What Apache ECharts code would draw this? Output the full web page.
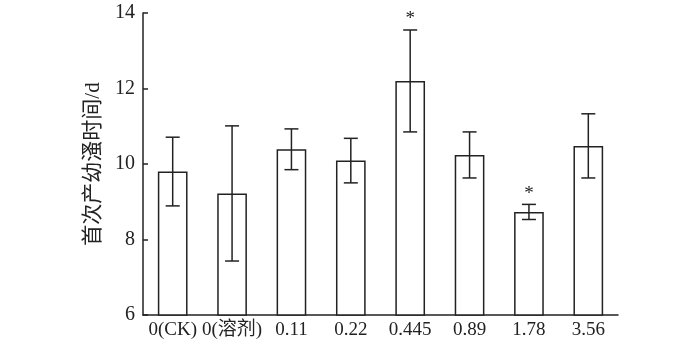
<!DOCTYPE html>
<html>
<head>
<meta charset="utf-8">
<script src="https://cdn.jsdelivr.net/npm/echarts@6/dist/echarts.min.js"></script>
<style>
  html, body { margin: 0; padding: 0; background: #fff; }
  #chart { width: 700px; height: 350px; }
</style>
</head>
<body>
<div id="chart"></div>
<script>
// 처리 농도 (x축 범주)
const categories = ['0(CK)', '0(溶剂)', '0.11', '0.22', '0.445', '0.89', '1.78', '3.56'];
// 평균값
const meanValues = [9.80, 9.22, 10.39, 10.09, 12.20, 10.24, 8.73, 10.48];
// 표준편차
const errValues = [0.91, 1.79, 0.54, 0.59, 1.35, 0.61, 0.20, 0.85];
// 유의성 표시
const marks = ['', '', '', '', '*', '', '*', ''];

const serif = '"Liberation Serif", "Noto Sans CJK SC", serif';
const ink = '#222';

const chart = echarts.init(document.getElementById('chart'));

const errorData = categories.map((c, i) => [i, meanValues[i] - errValues[i], meanValues[i] + errValues[i], marks[i]]);

// 오차 막대 + 별표
function renderError(params, api) {
    const x = api.value(0);
    const lo = api.coord([x, api.value(1)]);
    const hi = api.coord([x, api.value(2)]);
    const cap = 7;
    const style = { stroke: ink, lineWidth: 1.5 };
    const children = [
        { type: 'line', shape: { x1: hi[0], y1: hi[1], x2: lo[0], y2: lo[1] }, style },
        { type: 'line', shape: { x1: hi[0] - cap, y1: hi[1], x2: hi[0] + cap, y2: hi[1] }, style },
        { type: 'line', shape: { x1: lo[0] - cap, y1: lo[1], x2: lo[0] + cap, y2: lo[1] }, style }
    ];
    const mark = api.value(3);
    if (mark) {
        children.push({
            type: 'text',
            style: {
                text: mark, x: hi[0], y: hi[1] - 1,
                align: 'center', verticalAlign: 'bottom',
                font: '19px ' + serif, fill: ink
            }
        });
    }
    return { type: 'group', children };
}

chart.setOption({
    animation: false,
    grid: { left: 143, right: 82, top: 13, bottom: 35 },
    xAxis: {
        type: 'category',
        data: categories,
        axisLine: { lineStyle: { color: ink, width: 1.5 } },
        axisTick: { show: false },
        axisLabel: { color: ink, fontSize: 19, fontFamily: serif, margin: 6, interval: 0 }
    },
    yAxis: {
        type: 'value',
        min: 6,
        max: 14,
        interval: 2,
        name: '首次产幼溞时间/d',
        nameLocation: 'middle',
        nameGap: 36,
        nameTextStyle: { color: ink, fontSize: 21, fontFamily: serif },
        axisLine: { show: true, lineStyle: { color: ink, width: 1.5 } },
        axisTick: { show: true, inside: true, length: 5, lineStyle: { color: ink, width: 1.5 } },
        axisLabel: { color: ink, fontSize: 20, fontFamily: serif, margin: 8 },
        splitLine: { show: false }
    },
    series: [
        {
            type: 'bar',
            data: meanValues,
            barWidth: '50%',
            itemStyle: { color: '#fff', borderColor: ink, borderWidth: 1.5 }
        },
        {
            type: 'custom',
            data: errorData,
            encode: { x: 0, y: [1, 2] },
            renderItem: renderError,
            z: 5
        }
    ]
});
</script>
</body>
</html>
